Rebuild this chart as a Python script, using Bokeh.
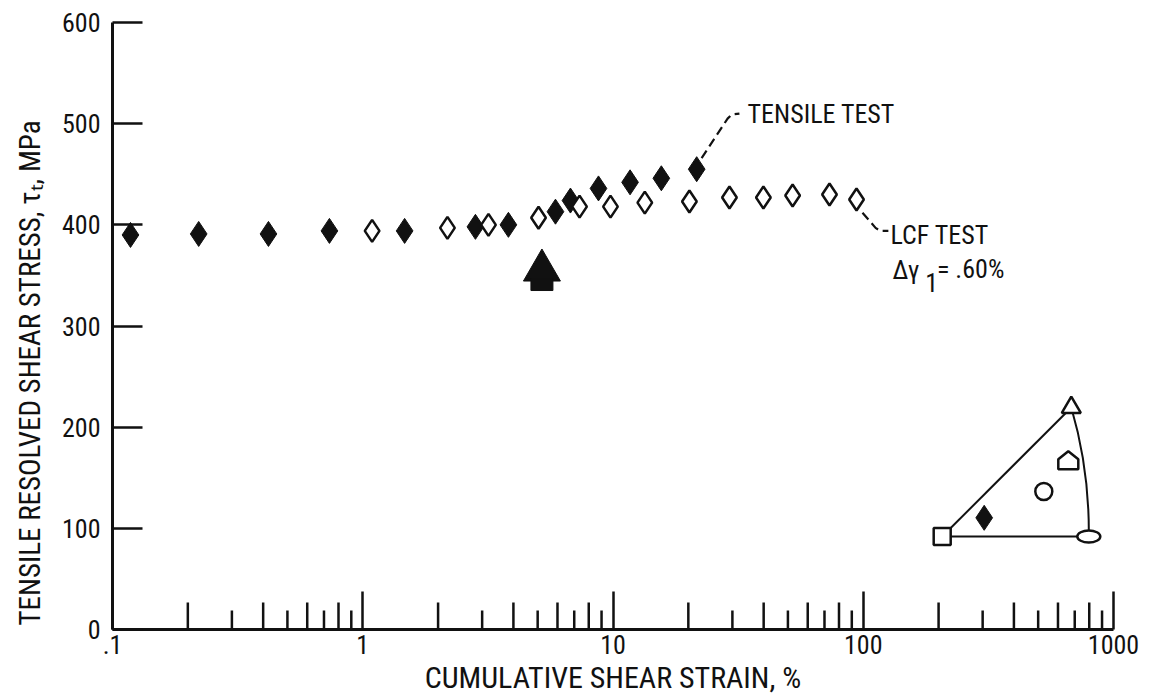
from bokeh.core.properties import value
from bokeh.embed import file_html
from bokeh.models import FixedTicker, LinearScale, Range1d, Title
from bokeh.plotting import figure
from bokeh.resources import INLINE

# Tensile test, filled diamonds: cumulative shear strain (%) vs resolved shear stress (MPa)
tensile_strain = [0.118, 0.221, 0.420, 0.736, 1.47, 2.82, 3.82, 5.89, 6.76, 8.75, 11.7, 15.6, 21.6]
tensile_stress = [390, 391, 391, 394, 394, 398, 400, 413, 424, 436, 442, 446, 455]

# LCF test at delta gamma_1 = 0.60 %, open diamonds
lcf_strain = [1.09, 2.18, 3.18, 5.04, 7.35, 9.77, 13.4, 20.2, 29.2, 39.9, 52.2, 73.3, 94.0]
lcf_stress = [394, 397, 400, 407, 418, 418, 422, 423, 427, 427, 429, 430, 425]

# Axis ticks
x_ticks = [0.1, 1, 10, 100, 1000]
x_tick_labels = [".1", "1", "10", "100", "1000"]
y_ticks = [0, 100, 200, 300, 400, 500, 600]

# Arrow marking the strain of interest
arrow_strain = [5.2]
arrow_head_stress = [355]
arrow_stem_stress = [341]

# Leader lines for the two curve labels
tensile_leader_x = [22.6, 28.7, 29.8, 32.0]
tensile_leader_y = [466, 505, 509, 510]
lcf_leader_x = [99.3, 112.0, 117.0, 126.0]
lcf_leader_y = [412, 397, 394, 394]

# Stereographic triangle inset (frame pixel space, origin bottom-left)
inset_square = (829.7, 93.0)      # [001]
inset_triangle = (958.8, 222.0)   # [111]
inset_ellipse = (976.3, 93.0)     # [011]
inset_arc_ctrl = (977.0, 160.0)
inset_diamond = (871.7, 111.7)
inset_circle = (931.3, 138.0)
inset_house = (955.8, 169.3)

FONT = "Roboto Condensed"
BLACK = "#111111"
PX_PER_MPA = 607 / 600

p = figure(
    width=1153, height=700,
    x_axis_type="log",
    x_range=Range1d(0.1, 1000), y_range=Range1d(0, 600),
    output_backend="svg", toolbar_location=None,
    min_border_left=112, min_border_right=40,
    min_border_top=22, min_border_bottom=71,
)
p.outline_line_color = None
p.grid.visible = False
p.background_fill_color = "white"
p.border_fill_color = "white"

p.extra_x_ranges = {"inset": Range1d(0, 1001)}
p.extra_y_ranges = {"inset": Range1d(0, 607)}
p.extra_x_scales = {"inset": LinearScale()}
p.extra_y_scales = {"inset": LinearScale()}

# x axis: decades only, labelled ".1" .. "1000"; ticks point into the plot
xa = p.xaxis[0]
xa.ticker = FixedTicker(ticks=x_ticks, minor_ticks=[])
xa.major_label_overrides = dict(zip(x_ticks, x_tick_labels))
xa.axis_line_width = 3
xa.axis_line_color = BLACK
xa.major_tick_in = 38
xa.major_tick_out = 0
xa.major_tick_line_width = 2.5
xa.major_tick_line_color = BLACK
xa.minor_tick_line_color = None
xa.major_label_standoff = 5
xa.major_label_text_font = FONT
xa.major_label_text_font_size = "26px"
xa.major_label_text_color = BLACK
xa.axis_label = "CUMULATIVE SHEAR STRAIN, %"
xa.axis_label_standoff = 3
xa.axis_label_text_font = FONT
xa.axis_label_text_font_style = "normal"
xa.axis_label_text_font_size = "30px"
xa.axis_label_text_color = BLACK

ya = p.yaxis[0]
ya.ticker = FixedTicker(ticks=y_ticks, minor_ticks=[])
ya.axis_line_width = 3
ya.axis_line_color = BLACK
ya.major_tick_in = 30
ya.major_tick_out = 0
ya.major_tick_line_width = 2.5
ya.major_tick_line_color = BLACK
ya.minor_tick_line_color = None
ya.major_label_standoff = 12
ya.major_label_text_font = FONT
ya.major_label_text_font_size = "26px"
ya.major_label_text_color = BLACK

# y title, anchored at the bottom of the frame
p.add_layout(Title(text="TENSILE RESOLVED SHEAR STRESS, τₜ, MPa", align="left", offset=4,
                   vertical_align="middle", standoff=21,
                   text_font=FONT, text_font_style="normal", text_font_size="29px",
                   text_color=BLACK), "left")

# minor log ticks: 2,4,6,8 long, 3,5,7,9 short
minor_long = [m * 10.0 ** d for d in range(-1, 3) for m in (2, 4, 6, 8)]
minor_short = [m * 10.0 ** d for d in range(-1, 3) for m in (3, 5, 7, 9)]
p.segment(x0=minor_long, y0=0, x1=minor_long, y1=27 / PX_PER_MPA, line_width=2.5, line_color=BLACK)
p.segment(x0=minor_short, y0=0, x1=minor_short, y1=19 / PX_PER_MPA, line_width=2.5, line_color=BLACK)

# data
p.scatter(tensile_strain, tensile_stress, marker="diamond", size=25,
          fill_color=BLACK, line_color=BLACK, line_width=1)
p.scatter(lcf_strain, lcf_stress, marker="diamond", size=22,
          fill_color="white", line_color=BLACK, line_width=2.5)

# leaders and labels
p.line(tensile_leader_x, tensile_leader_y, line_dash="9 5", line_width=2.2, line_color=BLACK)
p.line(lcf_leader_x, lcf_leader_y, line_dash="9 5", line_width=2.2, line_color=BLACK)

ann = dict(text_font=value(FONT), text_font_size="26px", text_color=BLACK,
           text_align="left", text_baseline="middle")
p.text(x=[34.5], y=[510], text=["TENSILE TEST"], **ann)
p.text(x=[128.5], y=[390.4], text=["LCF TEST"], **ann)
p.text(x=[130.9], y=[355], text=["Δγ"], **ann)
p.text(x=[177.0], y=[343], text=["1"], **ann)
p.text(x=[197.0], y=[356], text=["= .60%"], **ann)

# arrow
p.scatter(arrow_strain, arrow_head_stress, marker="triangle", size=37,
          fill_color=BLACK, line_color=BLACK, line_width=1)
p.rect(arrow_strain, arrow_stem_stress, width=22, height=12,
       width_units="screen", height_units="screen",
       fill_color=BLACK, line_color=BLACK, line_width=1)

# stereographic triangle inset
ins = dict(x_range_name="inset", y_range_name="inset")
p.line([inset_square[0], inset_triangle[0]], [inset_square[1], inset_triangle[1]],
       line_width=2, line_color=BLACK, **ins)
p.line([inset_square[0], inset_ellipse[0]], [inset_square[1], inset_ellipse[1]],
       line_width=2, line_color=BLACK, **ins)
p.quadratic(x0=[inset_triangle[0]], y0=[inset_triangle[1]],
            x1=[inset_ellipse[0]], y1=[inset_ellipse[1]],
            cx=[inset_arc_ctrl[0]], cy=[inset_arc_ctrl[1]],
            line_width=2, line_color=BLACK, **ins)
p.scatter([inset_square[0]], [inset_square[1]], marker="square", size=17,
          fill_color="white", line_color=BLACK, line_width=2.5, **ins)
p.scatter([inset_triangle[0]], [inset_triangle[1]], marker="triangle", size=19,
          fill_color="white", line_color=BLACK, line_width=2.5, **ins)
p.ellipse([inset_ellipse[0]], [inset_ellipse[1]], width=23, height=12,
          width_units="screen", height_units="screen",
          fill_color="white", line_color=BLACK, line_width=2.5, **ins)
p.scatter([inset_diamond[0]], [inset_diamond[1]], marker="diamond", size=25,
          fill_color=BLACK, line_color=BLACK, line_width=1, **ins)
p.scatter([inset_circle[0]], [inset_circle[1]], marker="circle", size=17,
          fill_color="white", line_color=BLACK, line_width=2.5, **ins)
hx, hy = inset_house
p.patch([hx - 10, hx + 10, hx + 10, hx, hx - 10],
        [hy - 9, hy - 9, hy + 1, hy + 9, hy + 1],
        fill_color="white", line_color=BLACK, line_width=2.5, **ins)

open("out.html", "w").write(file_html(p, INLINE))
